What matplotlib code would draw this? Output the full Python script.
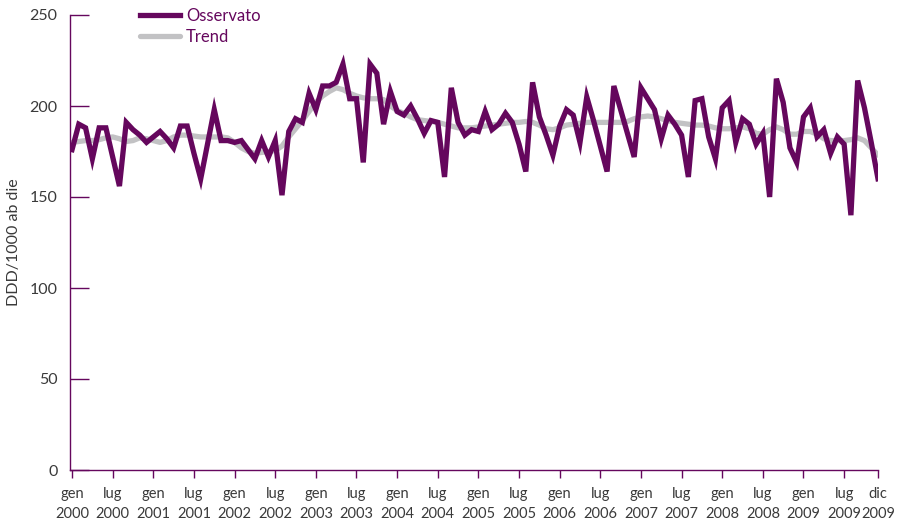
import matplotlib
matplotlib.use("Agg")
import matplotlib.pyplot as plt

plt.rcParams['font.family'] = ['Lato', 'DejaVu Sans']

observed = [176, 190, 188, 171, 188, 188, 172, 156, 191, 187, 184, 180,
            183, 186, 182, 177, 189, 189, 174, 160, 179, 198, 181, 181,
            180, 181, 176, 171, 181, 172, 181, 151, 186, 193, 191, 207,
            198, 211, 211, 213, 223, 204, 204, 169, 223, 218, 190, 208,
            197, 195, 200, 193, 185, 192, 191, 161, 210, 191, 184, 187,
            186, 197, 187, 190, 196, 191, 179, 164, 213, 194, 184, 173,
            189, 198, 195, 180, 205, 192, 178, 164, 211, 198, 185, 172,
            210, 204, 198, 182, 195, 190, 184, 161, 203, 204, 183, 171,
            199, 203, 180, 193, 190, 179, 185, 150, 215, 202, 177, 169,
            194, 199, 183, 187, 174, 183, 179, 140, 214, 199, 180, 160]

trend = [180, 180.5, 181, 181, 181.5, 182.5, 183, 182, 180.5, 181, 182.5, 182,
         181, 180, 181, 183, 184, 184, 183.5, 183, 183, 183, 183, 182.5,
         180, 177, 175, 174, 174.5, 175, 175.5, 178, 183, 187.5, 192, 197,
         202, 205.5, 208, 210, 209, 207, 205.5, 204.5, 204, 204, 203.5, 200,
         197.5, 196, 194, 192.5, 192, 191.5, 191, 190, 189, 188, 188, 188,
         188.5, 189, 189.5, 190, 190.5, 191, 191, 191.5, 191, 189.5, 187.5, 187,
         188, 189.5, 190, 190.5, 191, 191, 191, 191, 191, 191, 191.5, 193,
         194, 194.5, 194, 193, 192, 191, 190.5, 190, 189.5, 189.5, 189, 188,
         187.5, 187.5, 188, 188.5, 187.5, 185, 184.5, 187, 188.5, 187, 184.5, 184.5,
         186, 186, 184.5, 182, 181, 181, 181, 181.5, 182.5, 181, 177, 173]

tick_pos = list(range(0, 120, 6)) + [119]
tick_labels = []
for y in range(2000, 2010):
    tick_labels += [f"gen\n{y}", f"lug\n{y}"]
tick_labels += ["dic\n2009"]

months = list(range(len(observed)))

purple = '#65075d'
grey = '#c2c2c4'
txt = '#3a3a3a'

fig = plt.figure(figsize=(9.05, 5.26), dpi=100)
ax = fig.add_axes([70/905, 56/526, (878-70)/905, (470-15)/526])

ax.plot(months, trend, color=grey, lw=3.8, solid_capstyle='round', label='Trend', zorder=2)
ax.plot(months, observed, color=purple, lw=3.8, solid_joinstyle='miter', label='Osservato', zorder=3)

ax.set_xlim(-0.3, 119)
ax.set_ylim(0, 250)
ax.set_yticks([0, 50, 100, 150, 200, 250])
ax.set_xticks(tick_pos)
ax.set_xticklabels(tick_labels, fontsize=10.5, color=txt, linespacing=1.55)
ax.tick_params(axis='y', direction='in', length=14, width=1, color=purple,
               labelsize=11.5, labelcolor=txt, pad=9)
ax.tick_params(axis='x', direction='out', length=6, width=1, color=purple, pad=6)

for s in ['top', 'right']:
    ax.spines[s].set_visible(False)
for s in ['left', 'bottom']:
    ax.spines[s].set_color(purple)
    ax.spines[s].set_linewidth(1)

ax.set_ylabel('DDD/1000 ab die', fontsize=11.5, color=txt, labelpad=6)

handles, labels = ax.get_legend_handles_labels()
leg = fig.legend([handles[1], handles[0]], [labels[1], labels[0]],
                 loc='upper left', bbox_to_anchor=(132/905, 1.0), frameon=False,
                 fontsize=12, handlelength=2.4, handletextpad=0.35, labelspacing=0.3,
                 borderaxespad=0.1)
for t in leg.get_texts():
    t.set_color(purple)

fig.savefig('out.png', dpi=100)
